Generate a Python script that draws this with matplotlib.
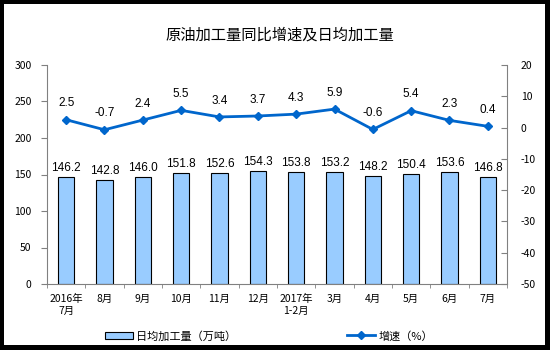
import numpy as np
import matplotlib.pyplot as plt
from matplotlib.patches import Rectangle

plt.rcParams['font.family'] = ['Noto Sans CJK SC', 'DejaVu Sans']
plt.rcParams['axes.unicode_minus'] = False

# 数据
months = ["2016年\n7月", "8月", "9月", "10月", "11月", "12月",
          "2017年\n1-2月", "3月", "4月", "5月", "6月", "7月"]
daily_output = [146.2, 142.8, 146.0, 151.8, 152.6, 154.3,
                153.8, 153.2, 148.2, 150.4, 153.6, 146.8]
growth = [2.5, -0.7, 2.4, 5.5, 3.4, 3.7, 4.3, 5.9, -0.6, 5.4, 2.3, 0.4]

bar_color = "#99CCFF"
line_color = "#0066CC"
num_font = ['Liberation Sans Narrow', 'Liberation Sans', 'DejaVu Sans']

W, H = 550, 350
fig = plt.figure(figsize=(5.5, 3.5), dpi=100, facecolor="white")

# 黑色外框（左、右、上、下）
for (x0, y0, w, h) in [(0, 0, 4, H), (W - 5, 0, 5, H),
                       (0, H - 4, W, 4), (0, 0, W, 5)]:
    fig.patches.append(Rectangle((x0 / W, y0 / H), w / W, h / H,
                                 transform=fig.transFigure,
                                 facecolor="black", edgecolor="none"))

ax = fig.add_axes([47 / W, 1 - 284 / H, 460 / W, 219 / H])
ax2 = ax.twinx()

x = np.arange(len(months))

bars = ax.bar(x, daily_output, width=0.42, color=bar_color,
              edgecolor="black", linewidth=0.8, label="日均加工量（万吨）")
for xi, v in zip(x, daily_output):
    ax.text(xi, v + 4, f"{v:.1f}", ha="center", va="bottom",
            fontsize=8.5, family=num_font)

line, = ax2.plot(x, growth, color=line_color, lw=2, marker="D",
                 markersize=4.5, label="增速（%）")
for xi, v in zip(x, growth):
    ax2.text(xi, v + 3.3, f"{v:.1f}", ha="center", va="bottom",
             fontsize=8.5, family=num_font)

ax.set_xlim(-0.5, len(months) - 0.5)
ax.set_ylim(0, 300)
ax.set_yticks(np.arange(0, 301, 50))
ax2.set_ylim(-50, 20)
ax2.set_yticks(np.arange(-50, 21, 10))

ax.set_xticks(x)
ax.set_xticklabels(months, fontsize=7.5, linespacing=1.3)
ax.set_xticks(np.arange(-0.5, len(months), 1), minor=True)
ax.tick_params(axis="x", which="major", length=0, pad=7)
ax.tick_params(axis="x", which="minor", length=3, color="#808080")
ax.tick_params(axis="y", length=4, color="#808080", labelsize=7.5, pad=7)
ax2.tick_params(axis="y", direction="in", length=4, color="#808080",
                labelsize=7.5, pad=10)

for a in (ax, ax2):
    a.spines["top"].set_visible(False)
    for side in ("left", "right", "bottom"):
        a.spines[side].set_color("#808080")
ax.spines["right"].set_visible(False)
ax2.spines["left"].set_visible(False)
ax2.spines["bottom"].set_visible(False)

fig.text(280 / W, 1 - 35 / H, "原油加工量同比增速及日均加工量",
         ha="center", va="center", fontsize=11)

fig.legend(handles=[bars, line], loc="center", ncol=2,
           bbox_to_anchor=(269 / W, 1 - 336 / H), frameon=False,
           fontsize=8, handlelength=2.5, handletextpad=0.3,
           columnspacing=10)

fig.savefig("out.png", dpi=100)
